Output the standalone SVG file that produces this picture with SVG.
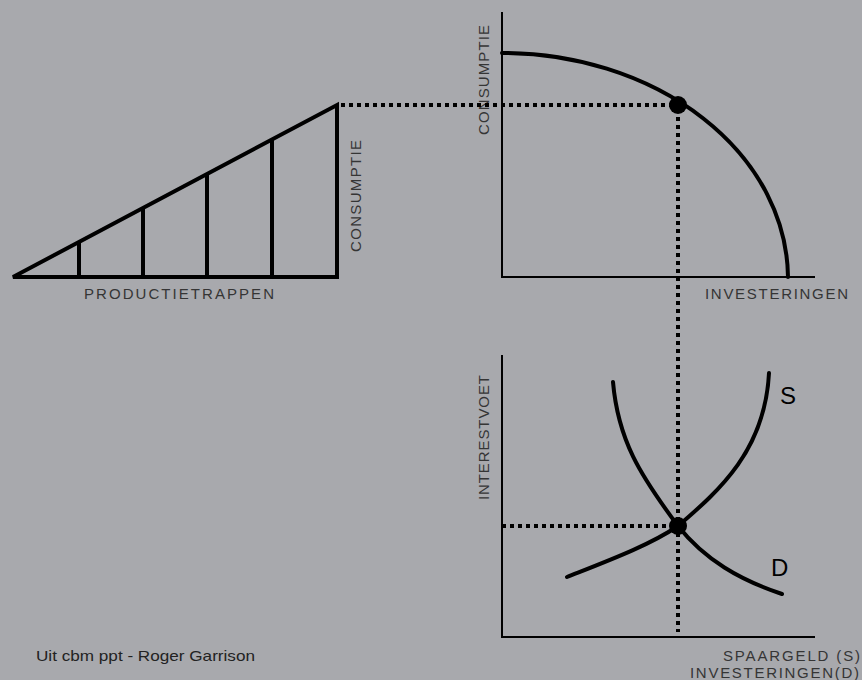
<svg xmlns="http://www.w3.org/2000/svg" width="862" height="680" viewBox="0 0 862 680">
<style>
.bg{fill:#a8a9ad}
.thick{fill:none;stroke:#000;stroke-width:4;stroke-linejoin:miter}
.axis{fill:none;stroke:#000;stroke-width:2}
.curve{fill:none;stroke:#000;stroke-width:4;stroke-linecap:round}
.dot{fill:none;stroke:#000;stroke-width:4;stroke-dasharray:4 4}
.lbl{font-family:"Liberation Sans",Arial,sans-serif;font-size:15px;fill:#353535}
.foot{font-family:"Liberation Sans",Arial,sans-serif;font-size:15px;fill:#222}
.big{font-family:"Liberation Sans",Arial,sans-serif;font-size:24px;fill:#000}
</style>
<rect class="bg" x="0" y="0" width="862" height="680"/>
<g id="triangle">
<path class="thick" d="M13,277 L337,277 L337,105 Z"/>
<path class="thick" d="M79,277 V242 M143,277 V208 M207,277 V174 M272,277 V139"/>
<text class="lbl" x="84" y="299" textLength="190" lengthAdjust="spacing">PRODUCTIETRAPPEN</text>
<text class="lbl" transform="translate(361,252) rotate(-90)" textLength="112" lengthAdjust="spacing">CONSUMPTIE</text>
</g>
<g id="ppf">
<path class="axis" d="M502,12 V277 H815"/>
<path class="curve" d="M502,53 A286,226 0 0 1 788,277"/>
<circle cx="678" cy="105" r="9" fill="#000"/>
<text class="lbl" transform="translate(489,135) rotate(-90)" textLength="110" lengthAdjust="spacing">CONSUMPTIE</text>
<text class="lbl" x="705" y="299" textLength="143" lengthAdjust="spacing">INVESTERINGEN</text>
</g>
<g id="market">
<path class="axis" d="M502,355 V637 H815"/>
<path class="curve" d="M567,577 C610,560 650,545 678,526 C720,490 765,450 769,373"/>
<path class="curve" d="M613,382 C618,440 640,475 678,526 C705,560 740,580 782,594"/>
<circle cx="678" cy="526" r="9" fill="#000"/>
<text class="big" x="780" y="404">S</text>
<text class="big" x="771" y="576">D</text>
<text class="lbl" transform="translate(489,500) rotate(-90)" textLength="125" lengthAdjust="spacing">INTERESTVOET</text>
<text class="lbl" x="723" y="661" textLength="137" lengthAdjust="spacing">SPAARGELD (S)</text>
<text class="lbl" x="690" y="678" textLength="169" lengthAdjust="spacing">INVESTERINGEN(D)</text>
</g>
<g id="connectors">
<path class="dot" d="M341,105 H674"/>
<path class="dot" d="M678,109 V632"/>
<path class="dot" d="M502,526 H674"/>
</g>
<text class="foot" x="36" y="661" textLength="219" lengthAdjust="spacingAndGlyphs">Uit cbm ppt - Roger Garrison</text>
</svg>
